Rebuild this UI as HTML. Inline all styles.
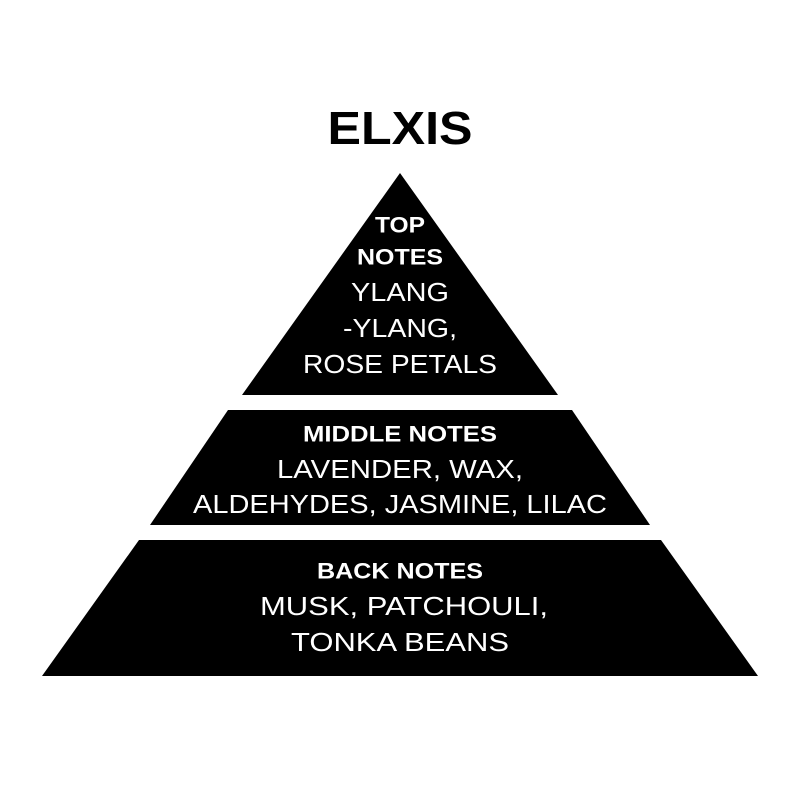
<!DOCTYPE html>
<html><head><style>html,body{margin:0;padding:0;background:#fff}</style></head>
<body>
<svg width="800" height="800" viewBox="0 0 800 800" xmlns="http://www.w3.org/2000/svg">
<rect width="800" height="800" fill="#fff"/>
<text x="400" y="128" text-anchor="middle" dominant-baseline="central" font-family="Liberation Sans, sans-serif" font-weight="bold" font-size="46" fill="#000" textLength="145" lengthAdjust="spacingAndGlyphs">ELXIS</text>
<polygon points="400,173 558,395 242,395" fill="#000"/>
<polygon points="228,410 572,410 650,525 150,525" fill="#000"/>
<polygon points="139,540 661,540 758,676 42,676" fill="#000"/>
<g font-family="Liberation Sans, sans-serif" fill="#fff" text-anchor="middle" dominant-baseline="central">
<text x="400" y="225" font-weight="bold" font-size="22" textLength="50" lengthAdjust="spacingAndGlyphs">TOP</text>
<text x="400" y="257" font-weight="bold" font-size="22" textLength="86" lengthAdjust="spacingAndGlyphs">NOTES</text>
<text x="400" y="292" font-size="26" textLength="98" lengthAdjust="spacingAndGlyphs">YLANG</text>
<text x="400" y="328" font-size="26" textLength="114" lengthAdjust="spacingAndGlyphs">-YLANG,</text>
<text x="400" y="364" font-size="26" textLength="194" lengthAdjust="spacingAndGlyphs">ROSE PETALS</text>
<text x="400" y="434" font-weight="bold" font-size="22" textLength="194" lengthAdjust="spacingAndGlyphs">MIDDLE NOTES</text>
<text x="400" y="469" font-size="26" textLength="246" lengthAdjust="spacingAndGlyphs">LAVENDER, WAX,</text>
<text x="400" y="504" font-size="26" textLength="414" lengthAdjust="spacingAndGlyphs">ALDEHYDES, JASMINE, LILAC</text>
<text x="400" y="571" font-weight="bold" font-size="22" textLength="166" lengthAdjust="spacingAndGlyphs">BACK NOTES</text>
<text x="404" y="606" font-size="26" textLength="288" lengthAdjust="spacingAndGlyphs">MUSK, PATCHOULI,</text>
<text x="400" y="642" font-size="26" textLength="218" lengthAdjust="spacingAndGlyphs">TONKA BEANS</text>
</g>
</svg>
</body></html>
